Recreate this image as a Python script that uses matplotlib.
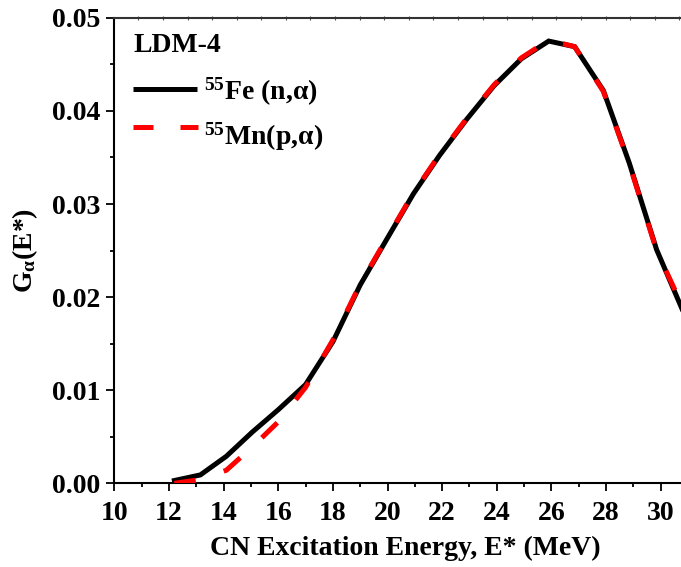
import matplotlib
matplotlib.use("Agg")
import matplotlib.pyplot as plt
from matplotlib.ticker import MultipleLocator, FixedLocator, FormatStrFormatter

plt.rcParams["font.family"] = ["Liberation Serif", "DejaVu Serif"]
plt.rcParams["font.weight"] = "bold"
plt.rcParams["mathtext.fontset"] = "custom"
plt.rcParams["mathtext.rm"] = "Liberation Serif:bold"
plt.rcParams["mathtext.bf"] = "Liberation Serif:bold"
plt.rcParams["mathtext.it"] = "Liberation Serif:bold"

# CN excitation energy grid (MeV)
energy = [12.2, 13.15, 14.1, 15.05, 16.0, 17.0, 18.0, 19.0, 19.95, 20.95,
          21.9, 22.9, 23.9, 24.9, 25.9, 26.85, 27.9, 28.85, 29.85, 30.8]

# G_alpha(E*) for the two entrance channels
g_fe_n_alpha = [0.0003, 0.0009, 0.0029, 0.0055, 0.0079, 0.0106, 0.0152, 0.0213,
                0.0261, 0.0311, 0.0352, 0.0391, 0.0427, 0.0456, 0.0475, 0.0469,
                0.0422, 0.0344, 0.0251, 0.0186]
g_mn_p_alpha = [0.0000, 0.0004, 0.0014, 0.0039, 0.0066, 0.0103, 0.0154, 0.0214,
                0.0262, 0.0312, 0.0353, 0.0392, 0.0428, 0.0457, 0.0476, 0.0469,
                0.0421, 0.0343, 0.0250, 0.0190]

series_labels = [r"$^{55}$Fe (n,$\alpha$)", r"$^{55}$Mn(p,$\alpha$)"]
legend_title = "LDM-4"

W, H = 681, 567
fig = plt.figure(figsize=(W / 100, H / 100), dpi=100)
left, right = 114.3, 681
bottom, top = 483.3, 17.8
ax = fig.add_axes([left / W, 1 - bottom / H, (right - left) / W, (bottom - top) / H])

lw = 3.6
dash = (4.3, 5.9)
ax.plot(energy, g_fe_n_alpha, color="black", lw=lw, solid_joinstyle="miter", zorder=3)
red, = ax.plot(energy, g_mn_p_alpha, color="#ff0000", lw=lw, dash_capstyle="butt", zorder=4)
red.set_dashes(dash)

ax.set_xlim(10, 10 + (right - left) / 27.32)
ax.set_ylim(0, 0.05)

ax.xaxis.set_major_locator(MultipleLocator(2))
ax.xaxis.set_minor_locator(MultipleLocator(1))
ax.yaxis.set_major_locator(MultipleLocator(0.01))
ax.yaxis.set_minor_locator(MultipleLocator(0.005))
ax.yaxis.set_major_formatter(FormatStrFormatter("%.2f"))

ax.spines["right"].set_visible(False)
for s in ("left", "bottom", "top"):
    ax.spines[s].set_linewidth(1.5)
ax.spines["top"].set_color("#333333")

ax.tick_params(axis="both", which="major", direction="out", length=6, width=1.3,
               labelsize=20, pad=4)
ax.tick_params(axis="x", which="major", pad=7)
ax.tick_params(axis="both", which="minor", direction="out", length=3, width=1.3)
ax.tick_params(top=False, right=False, which="both")
for lab in ax.get_xticklabels() + ax.get_yticklabels():
    lab.set_fontweight("bold")

# fine unlabeled ticks along the top frame
sec = ax.secondary_xaxis("top")
sec.xaxis.set_major_locator(FixedLocator([10.88 + 0.9 * k for k in range(23)]))
sec.tick_params(direction="inout", length=2.5, width=0.8, labeltop=False, colors="#555555")
sec.spines["top"].set_visible(False)

ax.set_xlabel("CN Excitation Energy, E* (MeV)", fontsize=20, fontweight="bold")
ax.xaxis.set_label_coords((405 - left) / (right - left), -0.112)
ax.set_ylabel(r"G$_{\alpha}$(E*)", fontsize=20, fontweight="bold")
ax.yaxis.set_label_coords(-0.131, 0.5)

# legend block: title, line samples and labels
tr = ax.transAxes
ax.text(0.033, 0.927, legend_title, transform=tr, fontsize=20, fontweight="bold",
        ha="left", va="baseline")
ax.plot([0.033, 0.146], [0.847, 0.847], transform=tr, color="black", lw=lw,
        solid_capstyle="butt", clip_on=False)
leg_red, = ax.plot([0.033, 0.148], [0.7663, 0.7663], transform=tr, color="#ff0000",
                   lw=lw, dash_capstyle="butt", clip_on=False)
leg_red.set_dashes((4.0, 5.4))
ax.text(0.158, 0.8234, series_labels[0], transform=tr, fontsize=20, fontweight="bold",
        ha="left", va="baseline")
ax.text(0.158, 0.727, series_labels[1], transform=tr, fontsize=20, fontweight="bold",
        ha="left", va="baseline")

fig.savefig("out.png", dpi=100)
